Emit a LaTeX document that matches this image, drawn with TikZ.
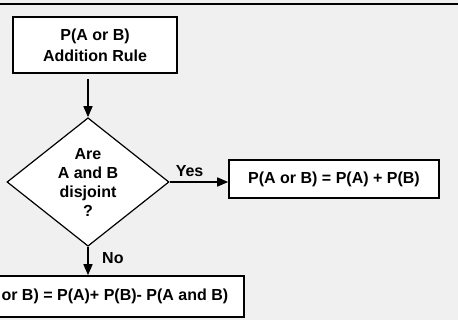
\documentclass[tikz,border=0pt]{standalone}
\usepackage{fontspec}
\setmainfont{Liberation Sans}
\usetikzlibrary{shapes.geometric,arrows.meta}
\definecolor{panel}{HTML}{F0F0F0}
\tikzset{
  box/.style={draw, line width=1.6pt, fill=white, inner sep=0pt},
  decision/.style={draw, diamond, line width=1.2pt, fill=white, inner sep=0pt,
    minimum width=162pt, minimum height=128pt},
  flow/.style={line width=1.6pt, -{Triangle[length=11pt,width=9pt]}},
  lbl/.style={inner sep=0pt}
}
\begin{document}
\begin{tikzpicture}[x=1pt,y=-1pt,font=\fontsize{16}{19}\selectfont\bfseries]
        % Background
        \clip (0,0) rectangle (458,320);
        \fill[panel] (0,0) rectangle (458,320);
        \draw[line width=1.8pt] (0,3.8) -- (458,3.8);
        % Boxes
        \node[box, minimum width=164pt, minimum height=56pt, align=center,
              font=\fontsize{16}{21}\selectfont\bfseries] (rule) at (95,45)
              {P(A or B)\\Addition Rule};
        \node[decision, align=center] (dia) at (88,182)
              {Are\\A and B\\disjoint\\?};
        \node[box, minimum width=210pt, minimum height=38pt] (disj) at (334,179)
              {P(A or B) = P(A) + P(B)};
        \node[box, inner xsep=16pt, minimum height=41pt, anchor=east] (gen) at (245,296.5)
              {P(A or B) = P(A)+ P(B)- P(A and B)};
        % Arrows
        \draw[flow, shorten <=5pt] (dia.north |- rule.south) -- (dia.north);
        \draw[flow] (dia.east) -- (dia.east -| disj.west);
        \draw[flow] (dia.south) -- (dia.south |- gen.north);
        % Labels
        \node[lbl, anchor=south west] (yes) at ([xshift=6pt,yshift=5pt]dia.east) {Yes};
        \node[lbl, anchor=west] (no) at ([xshift=14pt,yshift=-11pt]dia.south) {No};
\end{tikzpicture}
\end{document}
